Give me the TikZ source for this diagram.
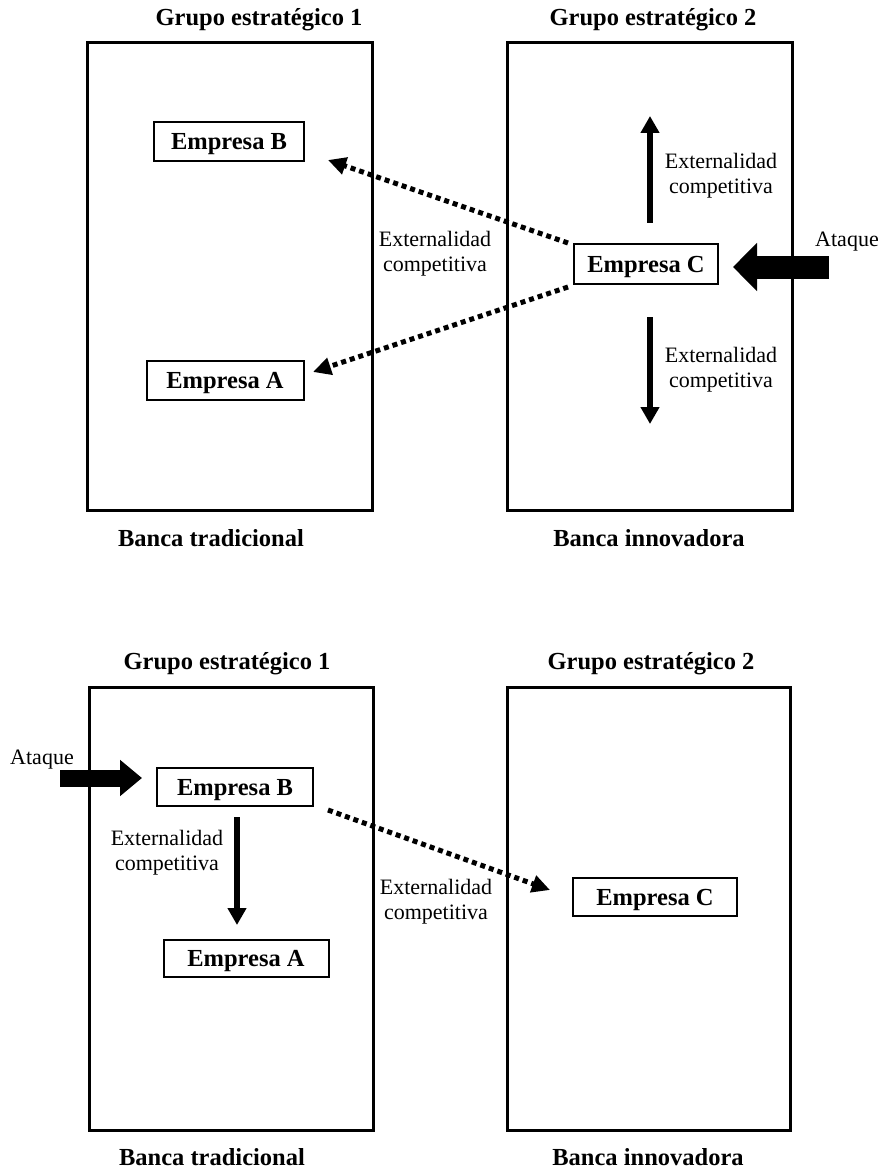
\documentclass[tikz,border=0pt]{standalone}
\usepackage{fontspec}
\setmainfont{Liberation Serif}
\usetikzlibrary{arrows.meta}
\tikzset{
  grp/.style={draw, line width=3pt},
  emp/.style={draw, line width=2pt, inner sep=0pt, minimum height=39pt, text height=17pt, text depth=1pt, font=\fontsize{24.5}{29}\bfseries\selectfont},
  ttl/.style={inner sep=0pt, font=\fontsize{24.5}{29}\bfseries\selectfont},
  lbl/.style={inner sep=0pt, align=center, font=\fontsize{22}{25}\selectfont},
  dotarr/.style={line width=5pt, dash pattern=on 5pt off 4pt, -{Triangle[length=18pt,width=17pt]}},
  solarr/.style={line width=6pt, -{Triangle[length=17pt,width=18pt]}},
}
\begin{document}
\begin{tikzpicture}[x=1pt,y=-1pt]
\useasboundingbox (0,0) rectangle (885,1174);
% ---------- top panel ----------
\draw[grp] (87,43) rectangle (372,510);
\draw[grp] (507,43) rectangle (792,510);
\node[ttl] (t1) at (259,20) {Grupo estratégico 1};
\node[ttl] (t2) at (653,20) {Grupo estratégico 2};
\node[ttl] (b1) at (211,538) {Banca tradicional};
\node[ttl] (b2) at (649,538) {Banca innovadora};
\node[emp, minimum width=150pt] (B) at (229,142) {Empresa B};
\node[emp, minimum width=157pt] (A) at (225,380) {Empresa A};
\node[emp, minimum width=144pt, minimum height=40pt] (C) at (646,264) {Empresa C};
\coordinate (cu) at (568,243);
\coordinate (cd) at (568,287);
\coordinate (tb) at (328,160);
\coordinate (ta) at (313,372);
\draw[dotarr] (cu) -- (tb);
\draw[dotarr] (cd) -- (ta);
\node[lbl] (lm) at (435,254) {Externalidad\\competitiva};
\coordinate (upS) at (650,223);
\coordinate (upE) at (650,116);
\draw[solarr] (upS) -- (upE);
\node[lbl] (lu) at (721,176) {Externalidad\\competitiva};
\coordinate (dnS) at (650,317);
\coordinate (dnE) at (650,424);
\draw[solarr] (dnS) -- (dnE);
\node[lbl] (ld) at (721,370) {Externalidad\\competitiva};
\coordinate (atkS) at (829,267);
\draw[line width=23pt, -{Triangle[length=24pt,width=47pt]}] (atkS) -- ([xshift=14pt]C.east |- atkS);
\node[lbl] (atkL) at (847,242) {Ataque};
% ---------- bottom panel ----------
\draw[grp] (89,687) rectangle (373,1130);
\draw[grp] (507,687) rectangle (790,1130);
\node[ttl] (t3) at (227,664) {Grupo estratégico 1};
\node[ttl] (t4) at (651,664) {Grupo estratégico 2};
\node[ttl] (b3) at (212,1157) {Banca tradicional};
\node[ttl] (b4) at (648,1157) {Banca innovadora};
\node[emp, minimum width=156pt, minimum height=38pt] (B2) at (235,787) {Empresa B};
\node[emp, minimum width=165pt, minimum height=37pt] (A2) at (246,958) {Empresa A};
\node[emp, minimum width=164pt, minimum height=38pt] (C2) at (655,897) {Empresa C};
\coordinate (atk2S) at (60,778);
\draw[line width=17pt, -{Triangle[length=22pt,width=35pt]}] (atk2S) -- ([xshift=-14pt]B2.west |- atk2S);
\node[lbl] (atk2L) at (42,760) {Ataque};
\coordinate (dn2S) at (237,817);
\coordinate (dn2E) at (237,925);
\draw[solarr] (dn2S) -- (dn2E);
\node[lbl] (l2a) at (167,853) {Externalidad\\competitiva};
\coordinate (d2S) at (328,810);
\coordinate (d2E) at (550,890);
\draw[dotarr] (d2S) -- (d2E);
\node[lbl] (l2b) at (436,902) {Externalidad\\competitiva};
\end{tikzpicture}
\end{document}
